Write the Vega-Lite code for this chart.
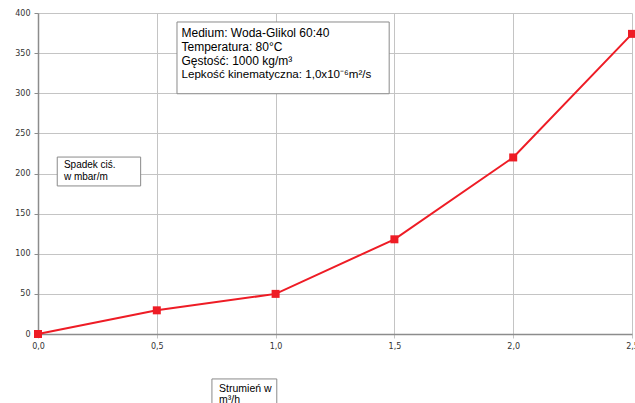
{
  "$schema": "https://vega.github.io/schema/vega-lite/v6.json",
  "width": 594,
  "height": 321,
  "autosize": {"type": "none"},
  "padding": {"left": 38, "top": 13, "right": 3, "bottom": 69},
  "background": "white",
  "config": {"view": {"stroke": null}},
  "datasets": {
    "series": [
      {"q": 0.0, "dp": 0},
      {"q": 0.5, "dp": 29.5},
      {"q": 1.0, "dp": 50},
      {"q": 1.5, "dp": 118},
      {"q": 2.0, "dp": 220},
      {"q": 2.5, "dp": 374}
    ],
    "boxes": [
      {"x1": 0.585, "x2": 1.478, "y1": 388.8, "y2": 299.4},
      {"x1": 0.081, "x2": 0.432, "y1": 220.5, "y2": 184.5},
      {"x1": 0.732, "x2": 1.005, "y1": -56.0, "y2": -95.0}
    ],
    "labels": [
      {"x": 0.604, "y": 374.6, "t": "Medium: Woda-Glikol 60:40", "s": 12},
      {"x": 0.604, "y": 357.2, "t": "Temperatura: 80°C", "s": 12},
      {"x": 0.604, "y": 340.5, "t": "Gęstość: 1000 kg/m³", "s": 12},
      {"x": 0.604, "y": 322.7, "t": "Lepkość kinematyczna: 1,0x10⁻⁶m²/s", "s": 11.6},
      {"x": 0.109, "y": 210.6, "t": "Spadek ciś.", "s": 10},
      {"x": 0.109, "y": 195.6, "t": "w mbar/m", "s": 10},
      {"x": 0.762, "y": -68.5, "t": "Strumień w", "s": 10.5},
      {"x": 0.762, "y": -82.5, "t": "m³/h", "s": 10.5}
    ]
  },
  "layer": [
    {
      "data": {"name": "series"},
      "mark": {"type": "line", "color": "#ee1c25", "strokeWidth": 2, "clip": false},
      "encoding": {
        "x": {
          "field": "q", "type": "quantitative",
          "scale": {"domain": [0, 2.5], "nice": false},
          "axis": {
            "values": [0, 0.5, 1, 1.5, 2, 2.5],
            "labelExpr": "replace(format(datum.value, '.1f'), '.', ',')",
            "title": null,
            "grid": true, "gridColor": "#c4c4c4", "gridWidth": 1,
            "domainColor": "#8c8c8c", "domainWidth": 1.5,
            "tickColor": "#c4c4c4", "tickSize": 4,
            "labelFont": "DejaVu Sans", "labelFontSize": 8, "labelColor": "#333333",
            "labelPadding": 4, "labelFlush": false
          }
        },
        "y": {
          "field": "dp", "type": "quantitative",
          "scale": {"domain": [0, 400], "nice": false},
          "axis": {
            "values": [0, 50, 100, 150, 200, 250, 300, 350, 400],
            "title": null,
            "grid": true, "gridColor": "#c4c4c4", "gridWidth": 1,
            "domainColor": "#8c8c8c", "domainWidth": 1.5,
            "tickColor": "#8c8c8c", "tickSize": 4,
            "labelFont": "DejaVu Sans", "labelFontSize": 8, "labelColor": "#333333",
            "labelPadding": 4
          }
        }
      }
    },
    {
      "data": {"name": "series"},
      "mark": {"type": "point", "shape": "square", "filled": true, "size": 64, "color": "#ee1c25", "opacity": 1, "clip": false},
      "encoding": {
        "x": {"field": "q", "type": "quantitative"},
        "y": {"field": "dp", "type": "quantitative"}
      }
    },
    {
      "data": {"name": "boxes"},
      "mark": {"type": "rect", "fill": "white", "stroke": "#8a8a8a", "strokeWidth": 1, "clip": false},
      "encoding": {
        "x": {"field": "x1", "type": "quantitative"},
        "x2": {"field": "x2"},
        "y": {"field": "y1", "type": "quantitative"},
        "y2": {"field": "y2"}
      }
    },
    {
      "data": {"name": "labels"},
      "mark": {"type": "text", "align": "left", "baseline": "middle", "font": "Liberation Sans", "color": "#000000", "clip": false},
      "encoding": {
        "x": {"field": "x", "type": "quantitative"},
        "y": {"field": "y", "type": "quantitative"},
        "text": {"field": "t"},
        "size": {"field": "s", "type": "quantitative", "scale": null}
      }
    }
  ]
}
